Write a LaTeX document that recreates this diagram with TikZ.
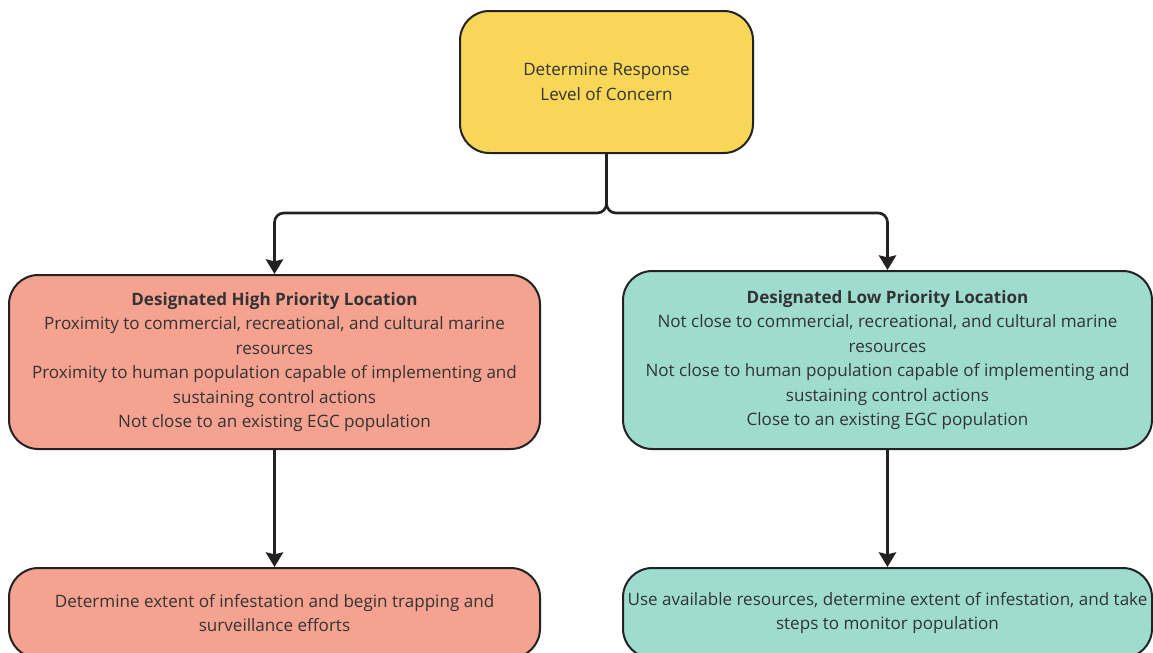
\documentclass[tikz,border=0pt]{standalone}
\usepackage{fontspec}
\setmainfont{Open Sans}
\usepackage{tikz}
\newcommand{\px}{0.75pt}
\definecolor{myYellow}{RGB}{247,214,88}
\definecolor{mySalmon}{RGB}{245,162,145}
\definecolor{myTeal}{RGB}{158,220,208}
\definecolor{myInk}{RGB}{51,51,51}
\definecolor{myEdge}{RGB}{34,34,34}
\usetikzlibrary{arrows.meta,positioning}
\tikzset{
  >={Stealth[width=13pt,length=11pt,inset=1.5pt]},
  font=\fontsize{12.8pt}{18.3pt}\selectfont,
  card/.style={draw=myEdge,line width=1.5pt,shape=rectangle,rounded corners=22pt,align=center,text=myInk,inner sep=0},
  topbox/.style={card,fill=myYellow,minimum width=293*\px,minimum height=142*\px},
  highbox/.style={card,fill=mySalmon,minimum width=531*\px},
  lowbox/.style={card,fill=myTeal,minimum width=529*\px},
  line/.style={draw=myEdge,->,line width=2pt,rounded corners=7pt},
}
\begin{document}
\begin{tikzpicture}[x=\px,y=-\px]
  \useasboundingbox (0,0) rectangle (1153,653);
  \node (resp) [topbox] at (606.5,82) {Determine Response\\Level of Concern};
  \node (high) [highbox,minimum height=174*\px] at (274.5,362) {\textbf{Designated High Priority Location}\\
    Proximity to commercial, recreational, and cultural marine\\resources\\
    Proximity to human population capable of implementing and\\sustaining control actions\\
    Not close to an existing EGC population};
  \node (low) [lowbox,minimum height=178*\px] at (887.5,360) {\textbf{Designated Low Priority Location}\\
    Not close to commercial, recreational, and cultural marine\\resources\\
    Not close to human population capable of implementing and\\sustaining control actions\\
    Close to an existing EGC population};
  \node (hact) [highbox,minimum height=90*\px] at (274.5,613) {Determine extent of infestation and begin trapping and\\surveillance efforts};
  \node (lact) [lowbox,minimum height=90*\px] at (887.5,613) {Use available resources, determine extent of infestation, and take\\steps to monitor population};
  % branches
  \path [line] (resp.south) -- ++(0,59) -| (high.north);
  \path [line] (resp.south) -- ++(0,59) -| (low.north);
  \path [line] (high.south) -- (hact.north);
  \path [line] (low.south) -- (lact.north);
\end{tikzpicture}
\end{document}
